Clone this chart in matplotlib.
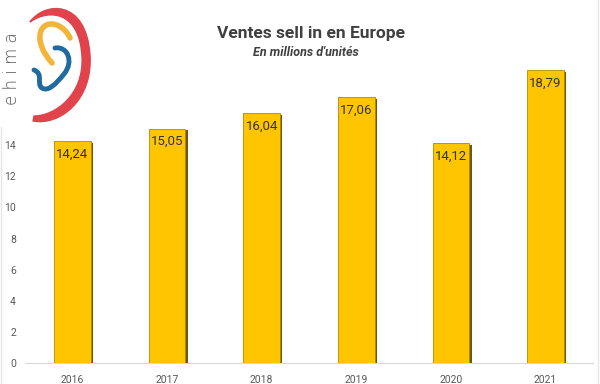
import matplotlib
matplotlib.use("Agg")
import matplotlib.pyplot as plt
import matplotlib.patheffects as pe
from matplotlib.patches import PathPatch
from matplotlib.path import Path
from matplotlib.lines import Line2D

years = ["2016", "2017", "2018", "2019", "2020", "2021"]
values = [14.24, 15.05, 16.04, 17.06, 14.12, 18.79]
labels = ["14,24", "15,05", "16,04", "17,06", "14,12", "18,79"]
yticks = [0, 2, 4, 6, 8, 10, 12, 14]

plt.rcParams['font.family'] = ['Roboto', 'DejaVu Sans']

fig = plt.figure(figsize=(6, 3.84), dpi=100)
ax = fig.add_axes([0.0417, 0.0534, 0.9466, 0.8125])

x = list(range(len(years)))
bars = ax.bar(x, values, width=0.39, color="#FFC600", edgecolor="#B08A00", linewidth=0.6, zorder=3)
for b in bars:
    b.set_path_effects([pe.SimplePatchShadow(offset=(1.5, -1.2), shadow_rgbFace="#5a4300", alpha=0.9), pe.Normal()])

for xi, v, lab in zip(x, values, labels):
    ax.text(xi, v - 0.4, lab, ha="center", va="top", fontsize=9.5, color="#333333", zorder=4)

ax.set_xlim(-0.5, 5.5)
ax.set_ylim(0, 20)
ax.set_xticks(x)
ax.set_xticklabels(years, fontsize=7.5, color="#595959")
ax.set_yticks(yticks)
ax.set_yticklabels([str(t) for t in yticks], fontsize=7.5, color="#595959")
ax.tick_params(axis='x', length=0, pad=8)
ax.tick_params(axis='y', length=0, pad=6.5)
for s in ["top", "right", "left"]:
    ax.spines[s].set_visible(False)
ax.spines["bottom"].set_color("#d9d9d9")
ax.spines["bottom"].set_linewidth(0.8)

fig.text(0.518, 0.914, "Ventes sell in en Europe", ha="center", va="center",
         fontsize=12.5, fontweight="bold", color="#404040")
fig.text(0.51, 0.864, "En millions d'unités", ha="center", va="center",
         fontsize=9, fontweight="bold", style="italic", color="#404040")

# frame lines
fig.add_artist(Line2D([0.002, 0.002], [0, 0.67], transform=fig.transFigure, color="#e6e6e6", lw=1))
fig.add_artist(Line2D([0.997, 0.997], [0, 1], transform=fig.transFigure, color="#e6e6e6", lw=1))

# logo (pixel-like coordinates, y downward)
lax = fig.add_axes([0.0, 1 - 127 / 384, 100 / 600, 127 / 384])
lax.set_xlim(0, 100)
lax.set_ylim(127, 0)
lax.axis("off")
lax.text(12, 69, "e h i m a", rotation=90, ha="center", va="center", fontsize=12, color="#555555",
         family="DejaVu Sans", fontweight="light")
C = Path.CURVE4
red = Path([(30, 22), (44, 2), (86, -2), (90, 55), (93, 100), (60, 126), (33, 121),
            (34, 116), (55, 116), (84, 95), (82, 57), (80, 12), (50, 8), (30, 22), (30, 22)],
           [Path.MOVETO, C, C, C, C, C, C, Path.LINETO, C, C, C, C, C, C, Path.CLOSEPOLY])
lax.add_patch(PathPatch(red, facecolor="#E0434B", edgecolor="#E0434B", lw=1))
yel = Path([(70, 38), (62, 20), (38, 18), (40, 40), (42, 52), (48, 58), (52, 63)],
           [Path.MOVETO, C, C, C, C, C, C])
lax.add_patch(PathPatch(yel, fill=False, edgecolor="#F2B53A", lw=4, capstyle="round"))
blu = Path([(55, 48), (68, 46), (74, 62), (64, 74), (56, 84), (48, 92), (42, 88),
            (36, 84), (44, 74), (34, 70)],
           [Path.MOVETO, C, C, C, C, C, C, C, C, C])
lax.add_patch(PathPatch(blu, fill=False, edgecolor="#1F6A9E", lw=3.5, capstyle="round"))

fig.savefig("out.png", dpi=100)
